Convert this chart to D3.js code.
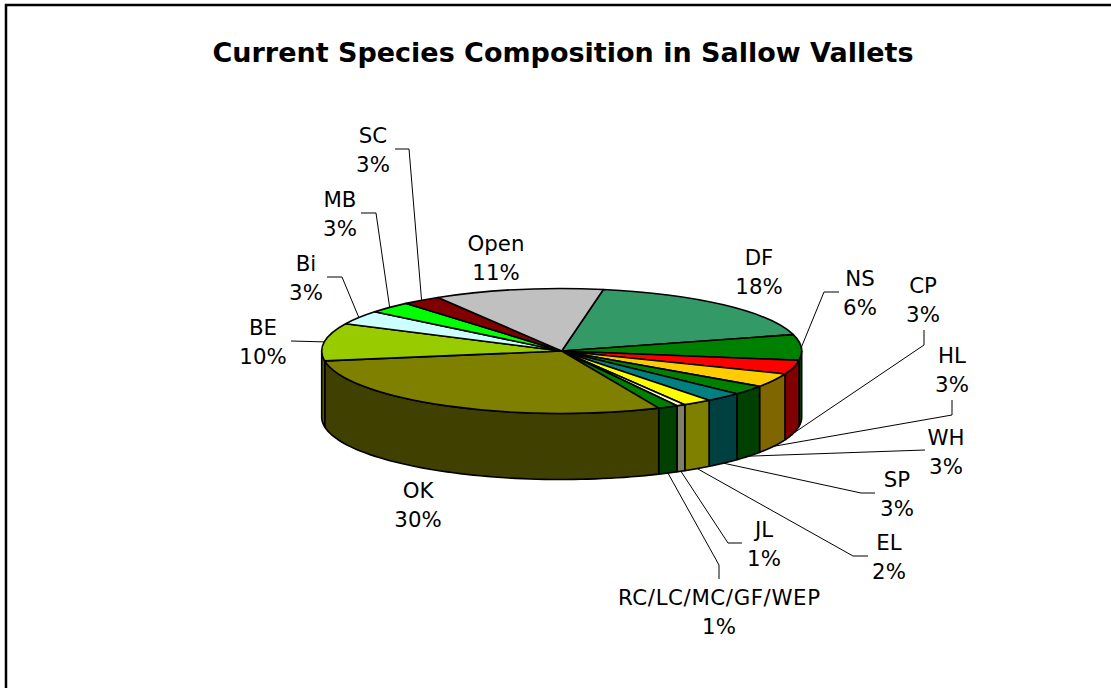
<!DOCTYPE html>
<html>
<head>
<meta charset="utf-8">
<script src="https://cdnjs.cloudflare.com/ajax/libs/d3/7.8.5/d3.min.js"></script>
<style>
  html, body { margin: 0; padding: 0; background: #fff; }
  svg { display: block; }
  text { font-family: "DejaVu Sans", Verdana, sans-serif; fill: #000; }
</style>
</head>
<body>
<div id="chart"></div>
<script>
// values, in percent
const species = ["DF", "NS", "CP", "HL", "WH", "SP", "EL", "JL", "RC/LC/MC/GF/WEP", "OK", "BE", "Bi", "MB", "SC", "Open"];
const shares = [18, 6.6, 3.6, 3.6, 2.4, 2.5, 1.95, 0.6, 1.35, 29.1, 9.7, 3.6, 3, 2.6, 11.4];
const percentLabels = ["18%", "6%", "3%", "3%", "3%", "3%", "2%", "1%", "1%", "30%", "10%", "3%", "3%", "3%", "11%"];
const topColors = ["#339966", "#008000", "#ff0000", "#ffcc00", "#008000", "#008080", "#ffff00", "#ffffcc", "#008000", "#808000", "#99cc00", "#ccffff", "#00ff00", "#800000", "#c0c0c0"];

const width = 1111, height = 688;
const cx = 561.7, cy = 351, rx = 240, ry = 62.5, depth = 66;
const startAngle = 10 * Math.PI / 180;

// label layout: text centre and baseline, elbow points of the leader, rim the leader starts on
const labelLayout = {
  "DF": {x: 759, y: 265},
  "NS": {x: 860, y: 286, leader: [[824, 292], [839, 292]], rim: "top"},
  "CP": {x: 923, y: 293, leader: [[924, 345], [924, 330]], rim: "bottom"},
  "HL": {x: 952, y: 363, leader: [[952, 415], [952, 400]], rim: "bottom"},
  "WH": {x: 946, y: 445, leader: [[925, 450]], rim: "bottom"},
  "SP": {x: 897, y: 487, leader: [[861, 493], [875, 493]], rim: "bottom"},
  "EL": {x: 889, y: 550, leader: [[853, 556], [868, 556]], rim: "bottom"},
  "JL": {x: 764, y: 537, leader: [[728, 543], [742, 543]], rim: "bottom"},
  "RC/LC/MC/GF/WEP": {x: 719, y: 605, fit: 202, leader: [[719, 565], [719, 579]], rim: "bottom"},
  "OK": {x: 418, y: 498},
  "BE": {x: 263, y: 335, leader: [[291, 341]], rim: "top"},
  "Bi": {x: 306, y: 271, leader: [[342, 277], [327, 277]], rim: "top"},
  "MB": {x: 340, y: 207, leader: [[376, 213], [361, 213]], rim: "top"},
  "SC": {x: 373, y: 143, leader: [[409, 149], [395, 149]], rim: "top"},
  "Open": {x: 496, y: 251}
};

const svg = d3.select("#chart").append("svg")
  .attr("width", width)
  .attr("height", height);

// outer frame, only its top and left edges fall inside the picture
svg.append("rect")
  .attr("x", 6).attr("y", 5)
  .attr("width", width + 20).attr("height", height + 20)
  .attr("fill", "#fff")
  .attr("stroke", "#000")
  .attr("stroke-width", 2.5);

svg.append("text")
  .attr("x", 563).attr("y", 62)
  .attr("text-anchor", "middle")
  .style("font-size", "27px")
  .style("font-weight", "bold")
  .text("Current Species Composition in Sallow Vallets");

const pie = d3.pie().sort(null).startAngle(startAngle).endAngle(startAngle + 2 * Math.PI);
const slices = pie(shares);

// clock angle -> point on the tilted rim
const rimX = a => cx + rx * Math.sin(a);
const rimY = a => cy - ry * Math.cos(a);

function sideColor(c) {
  const rgb = d3.rgb(c);
  return d3.rgb(rgb.r / 2, rgb.g / 2, rgb.b / 2).formatHex();
}

// the side wall, only what faces the viewer
const front0 = Math.PI / 2, front1 = 3 * Math.PI / 2;
const wall = svg.append("g");
slices.forEach((s, i) => {
  const a0 = Math.max(s.startAngle, front0), a1 = Math.min(s.endAngle, front1);
  if (a1 <= a0) return;
  const n = 60;
  const angles = d3.range(n + 1).map(k => a0 + (a1 - a0) * k / n);
  const upper = angles.map(a => [rimX(a), rimY(a)]);
  const lower = angles.slice().reverse().map(a => [rimX(a), rimY(a) + depth]);
  wall.append("path")
    .attr("d", d3.line()(upper.concat(lower)) + "Z")
    .attr("fill", sideColor(topColors[i]))
    .attr("stroke", "#000")
    .attr("stroke-width", 1.6)
    .attr("stroke-linejoin", "round");
});

// top of the pie: a flat pie squashed into the ellipse
const arc = d3.arc().innerRadius(0).outerRadius(rx);
svg.append("g")
  .attr("transform", `translate(${cx},${cy}) scale(1,${ry / rx})`)
  .selectAll("path")
  .data(slices)
  .join("path")
  .attr("d", arc)
  .attr("fill", (d, i) => topColors[i])
  .attr("stroke", "#000")
  .attr("stroke-width", 1.6)
  .attr("stroke-linejoin", "round")
  .attr("vector-effect", "non-scaling-stroke");

// labels and leaders
slices.forEach((s, i) => {
  const name = species[i];
  const l = labelLayout[name];
  const mid = (s.startAngle + s.endAngle) / 2;
  if (l.leader) {
    const start = [rimX(mid), rimY(mid) + (l.rim === "bottom" ? depth : 0)];
    svg.append("path")
      .attr("d", d3.line()([start].concat(l.leader)))
      .attr("fill", "none")
      .attr("stroke", "#000")
      .attr("stroke-width", 1);
  }
  const t = svg.append("text")
    .attr("text-anchor", "middle")
    .style("font-size", "21.3px");
  const first = t.append("tspan").attr("x", l.x).attr("y", l.y).text(name);
  if (l.fit) first.attr("textLength", l.fit);
  t.append("tspan").attr("x", l.x).attr("y", l.y + 28.5).text(percentLabels[i]);
});
</script>
</body>
</html>
